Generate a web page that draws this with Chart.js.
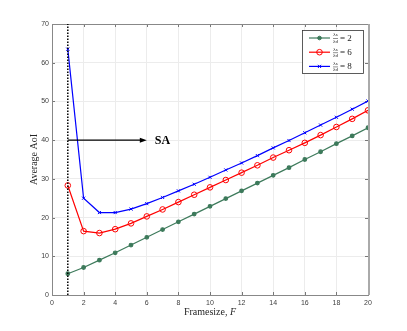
<!DOCTYPE html>
<html>
<head>
<meta charset="utf-8">
<script src="https://cdn.jsdelivr.net/npm/chart.js@4"></script>
<style>
  html, body { margin: 0; padding: 0; background: #fff; }
  #wrap { width: 407px; height: 331px; }
</style>
</head>
<body>
<div id="wrap"><canvas id="aoiChart" width="407" height="331"></canvas></div>
<script>
// data
const frameSize = [1, 2, 3, 4, 5, 6, 7, 8, 9, 10, 11, 12, 13, 14, 15, 16, 17, 18, 19, 20];
const aoiRatio2 = [5.5, 7.1, 9.0, 10.9, 12.9, 14.9, 16.9, 18.9, 20.9, 22.9, 24.9, 26.9, 28.9, 30.9, 32.9, 35.0, 37.0, 39.1, 41.1, 43.2];
const aoiRatio6 = [28.3, 16.5, 16.0, 17.0, 18.5, 20.3, 22.1, 24.0, 25.9, 27.8, 29.7, 31.6, 33.5, 35.5, 37.4, 39.3, 41.3, 43.4, 45.5, 47.7];
const aoiRatio8 = [63.5, 25.0, 21.3, 21.3, 22.2, 23.6, 25.2, 26.9, 28.6, 30.4, 32.3, 34.1, 36.0, 38.0, 39.9, 41.9, 43.9, 45.9, 48.0, 50.1];
const ratios = [2, 6, 8];

// SA marker: dotted line at F=1, arrow at AoI=40 up to F=6
const saFrame = 1;
const saArrowY = 40;
const saArrowEnd = 6;
const saLabel = 'SA';

const xTitle = 'Framesize, ';
const xTitleVar = 'F';
const yTitle = 'Average AoI';

const serif = '"Liberation Serif", "DejaVu Serif", serif';
const sans = '"Liberation Sans", Arial, sans-serif';

const toPts = arr => arr.map((v, i) => ({ x: frameSize[i], y: v }));

// box, inner ticks, axis titles, SA annotation
const figurePlugin = {
  id: 'figure',
  beforeDatasetsDraw(chart) {
    const { ctx, chartArea: a, scales: { x, y } } = chart;
    ctx.save();
    // inner tick marks on all four sides
    ctx.strokeStyle = '#777';
    ctx.lineWidth = 1;
    x.ticks.forEach(t => {
      const px = Math.round(x.getPixelForValue(t.value)) + 0.5;
      ctx.beginPath();
      ctx.moveTo(px, a.bottom); ctx.lineTo(px, a.bottom - 3);
      ctx.moveTo(px, a.top); ctx.lineTo(px, a.top + 3);
      ctx.stroke();
    });
    y.ticks.forEach(t => {
      const py = Math.round(y.getPixelForValue(t.value)) + 0.5;
      ctx.beginPath();
      ctx.moveTo(a.left, py); ctx.lineTo(a.left + 3, py);
      ctx.moveTo(a.right, py); ctx.lineTo(a.right - 3, py);
      ctx.stroke();
    });
    ctx.strokeStyle = '#888';
    ctx.strokeRect(Math.round(a.left) + 0.5, Math.round(a.top) + 0.5,
      Math.round(a.right - a.left), Math.round(a.bottom - a.top));
    ctx.strokeStyle = '#aaa';
    ctx.lineWidth = 2;
    ctx.beginPath();
    ctx.moveTo(Math.round(a.right) + 1, a.top);
    ctx.lineTo(Math.round(a.right) + 1, a.bottom);
    ctx.stroke();
    ctx.restore();
  },
  afterDatasetsDraw(chart) {
    const { ctx, chartArea: a, scales: { x, y } } = chart;
    ctx.save();
    // dotted SA line
    const lx = x.getPixelForValue(saFrame);
    ctx.strokeStyle = '#000';
    ctx.lineWidth = 1.5;
    ctx.setLineDash([1.5, 1.5]);
    ctx.beginPath();
    ctx.moveTo(lx, y.getPixelForValue(y.min));
    ctx.lineTo(lx, y.getPixelForValue(y.max));
    ctx.stroke();
    ctx.setLineDash([]);
    // arrow
    const ay = y.getPixelForValue(saArrowY);
    const ax2 = x.getPixelForValue(saArrowEnd);
    ctx.lineWidth = 1.3;
    ctx.beginPath();
    ctx.moveTo(lx, ay);
    ctx.lineTo(ax2 - 4, ay);
    ctx.stroke();
    ctx.fillStyle = '#000';
    ctx.beginPath();
    ctx.moveTo(ax2, ay);
    ctx.lineTo(ax2 - 7, ay - 2.5);
    ctx.lineTo(ax2 - 7, ay + 2.5);
    ctx.closePath();
    ctx.fill();
    ctx.font = 'bold 12px ' + serif;
    ctx.textBaseline = 'middle';
    ctx.textAlign = 'left';
    ctx.fillText(saLabel, ax2 + 8, ay + 1);

    // axis titles
    ctx.fillStyle = '#262626';
    ctx.font = '10px ' + serif;
    const w1 = ctx.measureText(xTitle).width;
    ctx.font = 'italic 10px ' + serif;
    const w2 = ctx.measureText(xTitleVar).width;
    const cx = (a.left + a.right) / 2 - (w1 + w2) / 2;
    ctx.font = '10px ' + serif;
    ctx.fillText(xTitle, cx, 312);
    ctx.font = 'italic 10px ' + serif;
    ctx.fillText(xTitleVar, cx + w1, 312);

    ctx.save();
    ctx.translate(34, (a.top + a.bottom) / 2);
    ctx.rotate(-Math.PI / 2);
    ctx.textAlign = 'center';
    ctx.font = '10px ' + serif;
    ctx.fillText(yTitle, 0, 0);
    ctx.restore();

    // legend box
    const bx = 302.5, by = 30.5, bw = 61, bh = 43;
    ctx.fillStyle = '#fff';
    ctx.fillRect(bx, by, bw, bh);
    ctx.strokeStyle = '#333';
    ctx.lineWidth = 0.8;
    ctx.strokeRect(bx, by, bw, bh);
    chart.data.datasets.forEach((ds, i) => {
      const ry = 38 + i * 14.2;
      ctx.strokeStyle = ds.borderColor;
      ctx.lineWidth = 1.2;
      ctx.beginPath();
      ctx.moveTo(309, ry); ctx.lineTo(330, ry);
      ctx.stroke();
      ctx.strokeStyle = ds.pointBorderColor;
      ctx.fillStyle = ds.pointBackgroundColor;
      ctx.lineWidth = 1;
      Chart.helpers.drawPoint(ctx, {
        pointStyle: ds.pointStyle, radius: ds.pointRadius, borderWidth: 1
      }, 319.5, ry);
      ctx.fillStyle = '#222';
      ctx.textAlign = 'center';
      ctx.font = '5px ' + serif;
      ctx.fillText('λs', 335.5, ry - 3);
      ctx.fillText('λd', 335.5, ry + 3.5);
      ctx.strokeStyle = '#222';
      ctx.lineWidth = 0.5;
      ctx.beginPath(); ctx.moveTo(333, ry + 0.5); ctx.lineTo(338, ry + 0.5); ctx.stroke();
      ctx.textAlign = 'left';
      ctx.font = '9px ' + serif;
      ctx.fillText('= ' + ratios[i], 340, ry + 0.5);
    });
    ctx.restore();
  }
};

const ctx = document.getElementById('aoiChart').getContext('2d');

new Chart(ctx, {
  type: 'line',
  data: {
    datasets: [
      {
        label: 'λs/λd = ' + ratios[0],
        data: toPts(aoiRatio2),
        borderColor: '#3d7a5b',
        backgroundColor: '#3d7a5b',
        pointBackgroundColor: '#3d7a5b',
        pointBorderColor: '#3d7a5b',
        pointStyle: 'circle',
        pointRadius: 1.8,
        borderWidth: 1.2,
      },
      {
        label: 'λs/λd = ' + ratios[1],
        data: toPts(aoiRatio6),
        borderColor: '#ff0000',
        backgroundColor: 'transparent',
        pointBackgroundColor: 'transparent',
        pointBorderColor: '#ff0000',
        pointStyle: 'circle',
        pointRadius: 2.8,
        pointBorderWidth: 1,
        borderWidth: 1.2,
      },
      {
        label: 'λs/λd = ' + ratios[2],
        data: toPts(aoiRatio8),
        borderColor: '#0000ff',
        backgroundColor: '#0000ff',
        pointBackgroundColor: '#0000ff',
        pointBorderColor: '#0000ff',
        pointStyle: 'crossRot',
        pointRadius: 2.2,
        pointBorderWidth: 1,
        borderWidth: 1.2,
      },
    ],
  },
  options: {
    responsive: false,
    animation: false,
    layout: { padding: { left: 0, right: 39, top: 24, bottom: 0 } },
    plugins: {
      legend: { display: false },
      tooltip: { enabled: false },
    },
    scales: {
      x: {
        type: 'linear',
        min: 0,
        max: 20,
        ticks: {
          stepSize: 2,
          padding: 4,
          color: '#404040',
          font: { family: sans, size: 7 },
        },
        grid: { color: '#ececec', drawTicks: false },
        border: { display: false },
        afterFit(scale) { scale.height = 331 - 295; },
      },
      y: {
        min: 0,
        max: 70,
        ticks: {
          stepSize: 10,
          padding: 3,
          color: '#404040',
          font: { family: sans, size: 7 },
        },
        grid: { color: '#ececec', drawTicks: false },
        border: { display: false },
        afterFit(scale) { scale.width = 52; },
      },
    },
  },
  plugins: [figurePlugin],
});
</script>
</body>
</html>
